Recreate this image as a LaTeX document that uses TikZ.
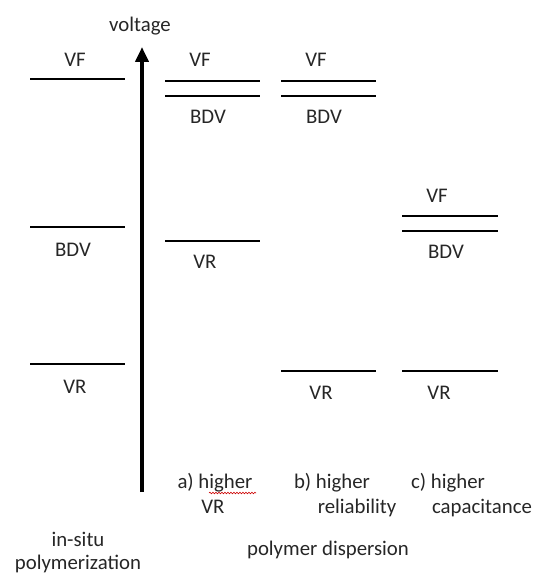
\documentclass[tikz,border=0pt]{standalone}
\usepackage{fontspec}
\setmainfont{Carlito}
\usetikzlibrary{arrows.meta,decorations.pathmorphing}
\begin{document}
\begin{tikzpicture}[x=1pt,y=-1pt,
  level/.style={line width=2.6pt,black},
  lbl/.style={anchor=base,inner sep=0pt,font=\fontsize{20.8}{24}\selectfont,text=black!85},
  axis/.style={line width=4.5pt,-{Triangle[length=15pt,width=13pt]}}]
\useasboundingbox (0,0) rectangle (537,575);

% voltage axis
\coordinate (ab) at (142,492);
\coordinate (at) at (142,47);
\draw[axis] (ab) -- (at);
\node[lbl] (volt) at (140,32) {voltage};

% in-situ polymerization
\draw[level] (30,79) -- (125,79);
\draw[level] (30,227) -- (125,227);
\draw[level] (30,364) -- (125,364);
\node[lbl] (vf1) at (75,67) {VF};
\node[lbl] (bdv1) at (73,256) {BDV};
\node[lbl] (vr1) at (75,393) {VR};

% a) higher VR
\draw[level] (165,81) -- (260,81);
\draw[level] (165,96) -- (260,96);
\draw[level] (165,241) -- (260,241);
\node[lbl] (vf2) at (200,67) {VF};
\node[lbl] (bdv2) at (208,124) {BDV};
\node[lbl] (vr2) at (205,268) {VR};

% b) higher reliability
\draw[level] (281,81) -- (376,81);
\draw[level] (281,96) -- (376,96);
\draw[level] (281,371) -- (376,371);
\node[lbl] (vf3) at (316,67) {VF};
\node[lbl] (bdv3) at (324,124) {BDV};
\node[lbl] (vr3) at (321,399) {VR};

% c) higher capacitance
\draw[level] (402,216) -- (498,216);
\draw[level] (402,231) -- (498,231);
\draw[level] (402,371) -- (498,371);
\node[lbl] (vf4) at (437,202) {VF};
\node[lbl] (bdv4) at (446,258) {BDV};
\node[lbl] (vr4) at (439,399) {VR};

% captions
\node[lbl] (ca1) at (215,488) {a) higher};
\node[lbl] (ca2) at (213,513) {VR};
\draw[red!80!black,line width=0.6pt,decorate,decoration={snake,amplitude=0.8pt,segment length=3pt}] (209,493) -- (256,493);
\node[lbl] (cb1) at (332,488) {b) higher};
\node[lbl] (cb2) at (357,513) {reliability};
\node[lbl] (cc1) at (448,488) {c) higher};
\node[lbl] (cc2) at (482,513) {capacitance};
\node[lbl] (ins1) at (78,546) {in-situ};
\node[lbl] (ins2) at (78,569) {polymerization};
\node[lbl] (pd) at (328,555) {polymer dispersion};
\end{tikzpicture}
\end{document}
